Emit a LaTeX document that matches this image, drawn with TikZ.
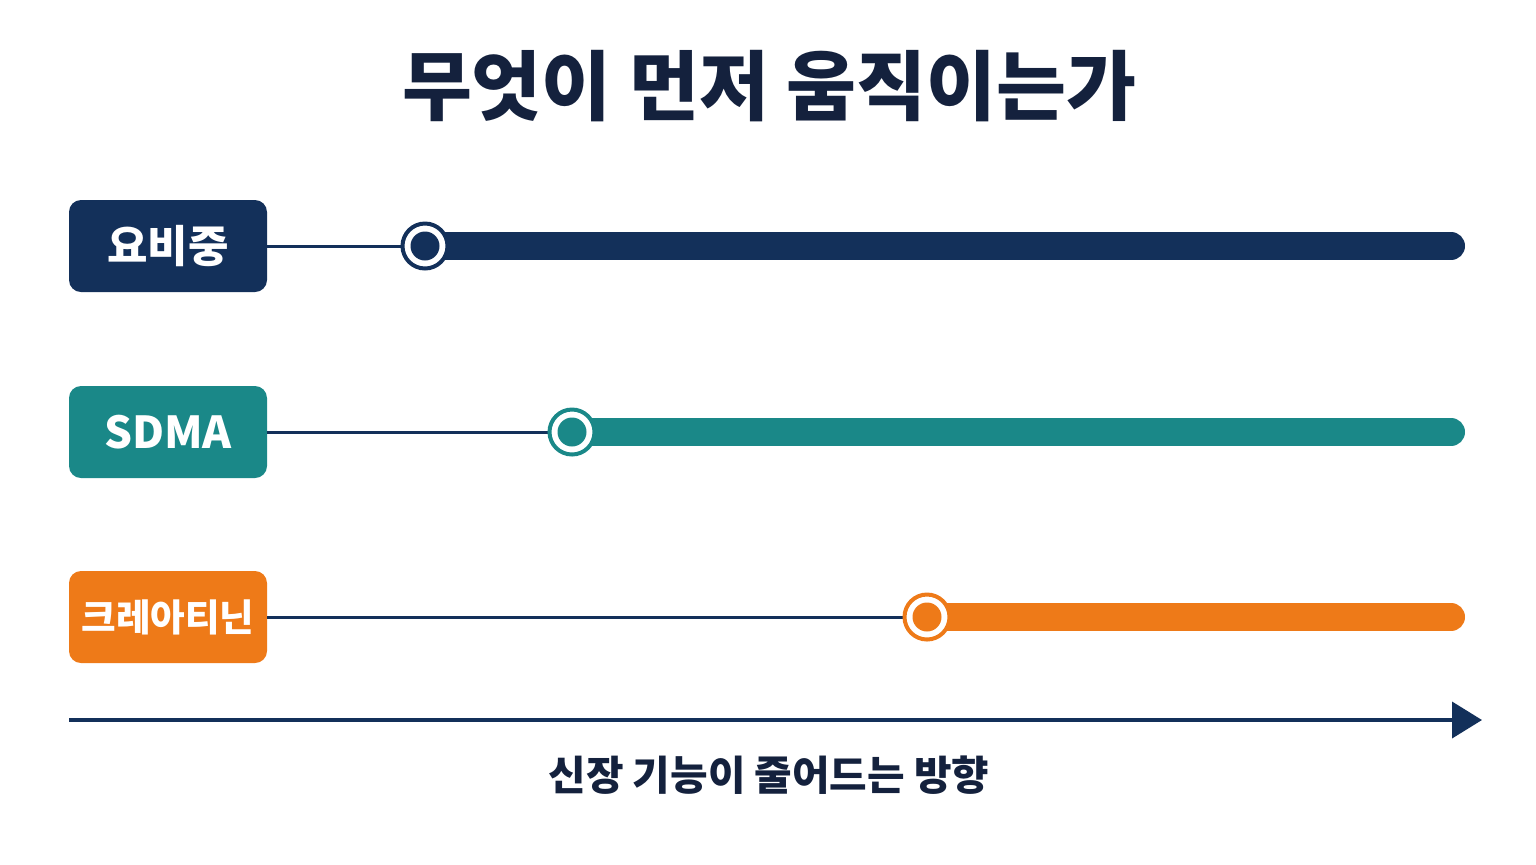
\documentclass[tikz,border=0pt]{standalone}
\usepackage{fontspec}
\usepackage{xcolor}
\usepackage{tikz}
\usetikzlibrary{arrows.meta, positioning}

\newfontfamily\cjk{Noto Sans CJK KR}

\definecolor{navy}{HTML}{13305A}
\definecolor{inkdark}{HTML}{14213D}
\definecolor{tealc}{HTML}{1A8888}
\definecolor{orangec}{HTML}{EE7A18}

\begin{document}
\begin{tikzpicture}[x=0.5pt, y=-0.5pt,
    labelbox/.style={rounded corners=6pt, minimum width=99pt, minimum height=46pt,
        inner sep=0pt, text=white},
    thinline/.style={navy, line width=1.5pt},
    bar/.style={line width=14pt, line cap=round},
    ring/.style={circle, fill=white, line width=2pt, minimum size=22.5pt, inner sep=0pt},
    dot/.style={circle, minimum size=14.5pt, inner sep=0pt}]
    \useasboundingbox (0,0) rectangle (1536,864);

    % Title
    \node[font=\cjk\bfseries\fontsize{38}{44}\selectfont, text=inkdark] (title) at (769,86) {무엇이 먼저 움직이는가};

    % Rows: label, colour, height, marker position, font size
    \foreach \i/\lab/\col/\y/\xm/\fs in {1/요비중/navy/246/425/22, 2/SDMA/tealc/432/572/22, 3/크레아티닌/orangec/617/927/18.8} {
        \node[labelbox, fill=\col, font=\cjk\bfseries\fontsize{\fs}{24}\selectfont] (box\i) at (168,\y) {\lab};
        \coordinate (c\i) at (\xm,\y);
        \coordinate (e\i) at (1451,\y);
        \draw[thinline] (box\i.east) -- (c\i);
        \draw[bar, \col] (c\i) -- (e\i);
        \node[ring, draw=\col] (ring\i) at (c\i) {};
        \node[dot, fill=\col] (dot\i) at (c\i) {};
    }

    % Axis
    \coordinate (axl) at (69,720);
    \coordinate (axr) at (1482,720);
    \draw[navy, line width=2pt, -{Triangle[length=15pt, width=18pt]}] (axl) -- (axr);
    \node[font=\cjk\bfseries\fontsize{20.4}{24}\selectfont, text=inkdark] (axlabel) at (769,775) {신장 기능이 줄어드는 방향};
\end{tikzpicture}
\end{document}
